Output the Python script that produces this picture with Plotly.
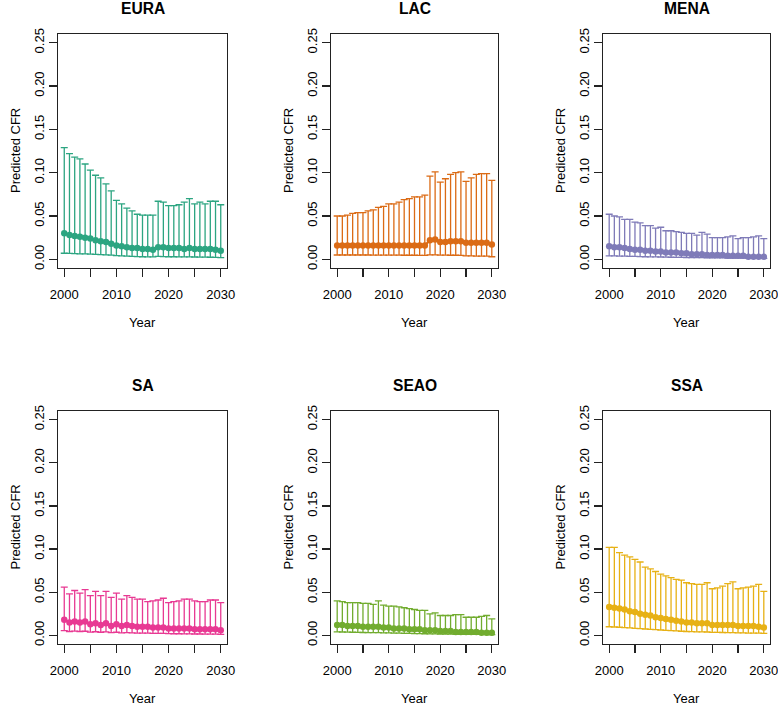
import plotly.graph_objects as go

years = list(range(2000, 2031))

regions = ["EURA", "LAC", "MENA", "SA", "SEAO", "SSA"]
colors = ["#1B9E77", "#D95F02", "#7570B3", "#E7298A", "#66A61E", "#E6AB02"]

eura_mean = [0.030, 0.028, 0.027, 0.026, 0.025, 0.024, 0.022, 0.021, 0.020, 0.018, 0.016,
             0.015, 0.014, 0.013, 0.013, 0.012, 0.012, 0.011, 0.014, 0.014, 0.013,
             0.013, 0.013, 0.012, 0.013, 0.012, 0.012, 0.012, 0.012, 0.011, 0.010]
eura_upper = [0.129, 0.122, 0.118, 0.116, 0.110, 0.103, 0.097, 0.094, 0.087, 0.079, 0.068,
              0.064, 0.059, 0.056, 0.052, 0.051, 0.051, 0.051, 0.067, 0.066, 0.062,
              0.062, 0.063, 0.066, 0.070, 0.064, 0.066, 0.064, 0.067, 0.067, 0.063]
eura_lower = [0.0070, 0.0068, 0.0066, 0.0064, 0.0062, 0.0060, 0.0057, 0.0054, 0.0051, 0.0048, 0.0043,
              0.0040, 0.0037, 0.0034, 0.0032, 0.0030, 0.0029, 0.0028, 0.0033, 0.0032, 0.0030,
              0.0030, 0.0029, 0.0028, 0.0028, 0.0027, 0.0026, 0.0025, 0.0024, 0.0023, 0.0020]

lac_mean = [0.016, 0.016, 0.016, 0.016, 0.016, 0.016, 0.016, 0.016, 0.016, 0.016, 0.016,
            0.016, 0.016, 0.016, 0.016, 0.016, 0.016, 0.016, 0.022, 0.023, 0.020,
            0.020, 0.021, 0.021, 0.021, 0.019, 0.019, 0.019, 0.019, 0.019, 0.017]
lac_upper = [0.050, 0.050, 0.051, 0.053, 0.054, 0.054, 0.056, 0.057, 0.060, 0.061, 0.064,
             0.064, 0.066, 0.069, 0.070, 0.072, 0.072, 0.074, 0.096, 0.101, 0.089,
             0.093, 0.098, 0.100, 0.101, 0.090, 0.094, 0.098, 0.099, 0.099, 0.091]
lac_lower = [0.0050, 0.0050, 0.0050, 0.0050, 0.0050, 0.0050, 0.0050, 0.0049, 0.0049, 0.0049, 0.0048,
             0.0048, 0.0048, 0.0047, 0.0047, 0.0047, 0.0046, 0.0046, 0.0052, 0.0052, 0.0048,
             0.0048, 0.0047, 0.0047, 0.0046, 0.0040, 0.0039, 0.0038, 0.0037, 0.0036, 0.0030]

mena_mean = [0.015, 0.014, 0.014, 0.013, 0.012, 0.011, 0.011, 0.010, 0.010, 0.009, 0.009,
             0.008, 0.008, 0.008, 0.007, 0.007, 0.006, 0.006, 0.006, 0.005, 0.005,
             0.005, 0.005, 0.004, 0.004, 0.004, 0.004, 0.003, 0.003, 0.003, 0.003]
mena_upper = [0.052, 0.050, 0.049, 0.046, 0.046, 0.043, 0.042, 0.039, 0.039, 0.036, 0.037,
              0.033, 0.033, 0.032, 0.031, 0.030, 0.030, 0.028, 0.031, 0.029, 0.025,
              0.025, 0.025, 0.026, 0.027, 0.024, 0.025, 0.025, 0.026, 0.027, 0.024]
mena_lower = [0.0040, 0.0039, 0.0038, 0.0036, 0.0035, 0.0033, 0.0032, 0.0030, 0.0029, 0.0028, 0.0027,
              0.0025, 0.0024, 0.0023, 0.0022, 0.0021, 0.0020, 0.0019, 0.0019, 0.0018, 0.0017,
              0.0016, 0.0016, 0.0015, 0.0015, 0.0014, 0.0013, 0.0013, 0.0012, 0.0012, 0.0011]

sa_mean = [0.018, 0.015, 0.016, 0.015, 0.016, 0.013, 0.014, 0.012, 0.014, 0.011, 0.013,
           0.011, 0.012, 0.011, 0.010, 0.010, 0.010, 0.009, 0.009, 0.009, 0.008,
           0.008, 0.008, 0.008, 0.008, 0.007, 0.007, 0.007, 0.007, 0.007, 0.006]
sa_upper = [0.056, 0.048, 0.052, 0.049, 0.053, 0.046, 0.051, 0.046, 0.051, 0.044, 0.049,
            0.042, 0.046, 0.044, 0.042, 0.042, 0.039, 0.040, 0.041, 0.043, 0.038,
            0.039, 0.040, 0.042, 0.042, 0.040, 0.039, 0.039, 0.041, 0.041, 0.038]
sa_lower = [0.0055, 0.0045, 0.0050, 0.0045, 0.0048, 0.0038, 0.0042, 0.0036, 0.0040, 0.0032, 0.0036,
            0.0030, 0.0032, 0.0029, 0.0027, 0.0026, 0.0025, 0.0023, 0.0023, 0.0022, 0.0020,
            0.0019, 0.0019, 0.0018, 0.0018, 0.0016, 0.0016, 0.0015, 0.0015, 0.0014, 0.0012]

seao_mean = [0.012, 0.012, 0.011, 0.011, 0.011, 0.010, 0.010, 0.010, 0.010, 0.009, 0.009,
             0.008, 0.008, 0.008, 0.007, 0.007, 0.007, 0.006, 0.006, 0.006, 0.005,
             0.005, 0.005, 0.004, 0.004, 0.004, 0.004, 0.004, 0.003, 0.003, 0.003]
seao_upper = [0.040, 0.039, 0.038, 0.038, 0.038, 0.037, 0.037, 0.036, 0.040, 0.035, 0.034,
              0.034, 0.033, 0.032, 0.031, 0.030, 0.029, 0.029, 0.025, 0.026, 0.023,
              0.023, 0.023, 0.024, 0.024, 0.021, 0.021, 0.021, 0.022, 0.023, 0.019]
seao_lower = [0.0040, 0.0039, 0.0037, 0.0036, 0.0035, 0.0033, 0.0032, 0.0031, 0.0031, 0.0029, 0.0028,
              0.0026, 0.0025, 0.0024, 0.0022, 0.0021, 0.0020, 0.0019, 0.0018, 0.0017, 0.0016,
              0.0015, 0.0015, 0.0014, 0.0013, 0.0012, 0.0012, 0.0011, 0.0011, 0.0010, 0.0009]

ssa_mean = [0.033, 0.032, 0.031, 0.030, 0.028, 0.027, 0.025, 0.024, 0.023, 0.021, 0.020,
            0.019, 0.018, 0.017, 0.016, 0.015, 0.015, 0.014, 0.014, 0.014, 0.012,
            0.012, 0.012, 0.012, 0.012, 0.011, 0.011, 0.011, 0.011, 0.010, 0.009]
ssa_upper = [0.102, 0.102, 0.096, 0.093, 0.091, 0.088, 0.085, 0.079, 0.077, 0.074, 0.071,
             0.069, 0.067, 0.065, 0.064, 0.061, 0.060, 0.059, 0.059, 0.061, 0.054,
             0.055, 0.057, 0.060, 0.062, 0.054, 0.055, 0.056, 0.057, 0.059, 0.051]
ssa_lower = [0.0100, 0.0097, 0.0094, 0.0090, 0.0086, 0.0082, 0.0078, 0.0074, 0.0070, 0.0066, 0.0062,
             0.0058, 0.0054, 0.0051, 0.0048, 0.0045, 0.0043, 0.0041, 0.0040, 0.0039, 0.0035,
             0.0034, 0.0033, 0.0032, 0.0032, 0.0029, 0.0028, 0.0027, 0.0027, 0.0026, 0.0023]

means = [eura_mean, lac_mean, mena_mean, sa_mean, seao_mean, ssa_mean]
uppers = [eura_upper, lac_upper, mena_upper, sa_upper, seao_upper, ssa_upper]
lowers = [eura_lower, lac_lower, mena_lower, sa_lower, seao_lower, ssa_lower]

y_ticks = [0.0, 0.05, 0.10, 0.15, 0.20, 0.25]
x_ticks = [2000, 2005, 2010, 2015, 2020, 2025, 2030]
x_ticktext = ["2000", "", "2010", "", "2020", "", "2030"]

W, H = 778, 703
col_px = [(58, 227), (331, 498), (603, 770)]
row_px = [(34, 268), (411, 644)]

FONT = "Liberation Sans, Arial, Helvetica, sans-serif"

fig = go.Figure()
annotations = []
for i, reg in enumerate(regions):
    r, c = divmod(i, 3)
    x0, x1 = col_px[c]
    t, b = row_px[r]
    n = i + 1
    xa = "x" if n == 1 else f"x{n}"
    ya = "y" if n == 1 else f"y{n}"
    m, u, l = means[i], uppers[i], lowers[i]
    fig.add_trace(go.Scatter(
        x=years, y=m, mode="lines+markers",
        line=dict(color=colors[i], width=2.2),
        marker=dict(color=colors[i], size=6.5),
        error_y=dict(type="data", symmetric=False,
                     array=[uu - mm for uu, mm in zip(u, m)],
                     arrayminus=[mm - ll for mm, ll in zip(m, l)],
                     color=colors[i], thickness=1.3, width=3.5),
        xaxis=xa, yaxis=ya, showlegend=False, opacity=0.92,
    ))
    axkw = dict(showline=True, linecolor="#222", linewidth=1.3, mirror=True,
                ticks="outside", ticklen=8, tickwidth=1.2, tickcolor="#222",
                showgrid=False, zeroline=False, automargin=False,
                ticklabeloverflow="allow",
                tickfont=dict(family=FONT, size=13, color="black"))
    fig.layout[f"xaxis{'' if n == 1 else n}"] = dict(
        domain=[x0 / W, x1 / W], range=[1998.8, 2031.2], anchor=ya,
        tickvals=x_ticks, ticktext=x_ticktext, ticklabelstandoff=6, **axkw)
    fig.layout[f"yaxis{'' if n == 1 else n}"] = dict(
        domain=[1 - b / H, 1 - t / H], range=[-0.01, 0.26], anchor=xa,
        tickvals=y_ticks, tickformat=".2f", tickangle=-90, **axkw)
    cx = (x0 + x1) / 2
    annotations.append(dict(text=f"<b>{reg}</b>", x=cx / W, y=1 - (t - 26) / H,
                            xref="paper", yref="paper", showarrow=False,
                            xanchor="center", yanchor="middle",
                            font=dict(family=FONT, size=15.6, color="black")))
    annotations.append(dict(text="Year", x=cx / W, y=1 - (b + 54) / H,
                            xref="paper", yref="paper", showarrow=False,
                            xanchor="center", yanchor="middle",
                            font=dict(family=FONT, size=13, color="black")))
    annotations.append(dict(text="Predicted CFR", x=(x0 - 43) / W, y=1 - ((t + b) / 2) / H,
                            xref="paper", yref="paper", showarrow=False, textangle=-90,
                            xanchor="center", yanchor="middle",
                            font=dict(family=FONT, size=13, color="black")))

fig.update_layout(template="none", width=W, height=H,
                  margin=dict(l=0, r=0, t=0, b=0, pad=0, autoexpand=False),
                  plot_bgcolor="white", paper_bgcolor="white",
                  annotations=annotations, showlegend=False)

fig.write_html("out.html", config={"displayModeBar": False, "staticPlot": True},
               post_script="document.body.style.margin='0';document.body.style.overflow='hidden';")
